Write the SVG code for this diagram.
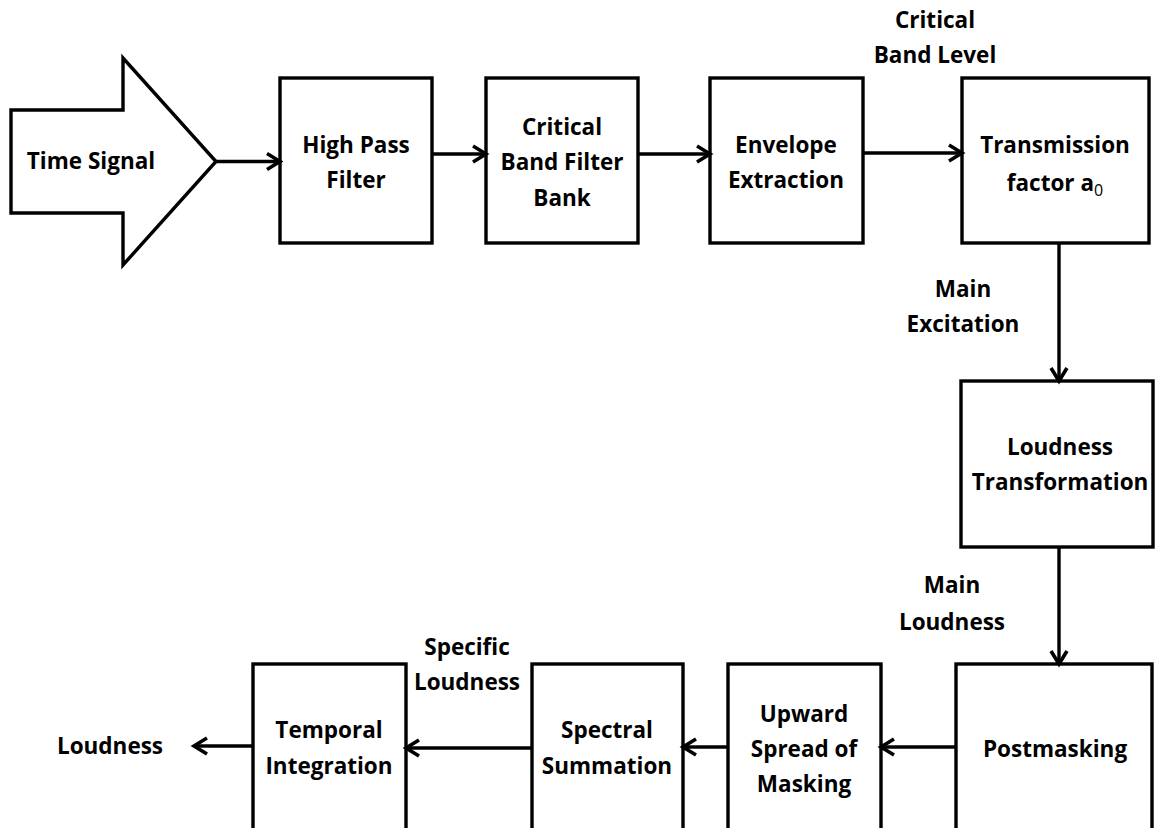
<svg xmlns="http://www.w3.org/2000/svg" width="1155" height="828" viewBox="0 0 1155 828">
<style>
.box{fill:#fff;stroke:#000;stroke-width:3.4}
.t{font-family:"Open Sans","Liberation Sans",sans-serif;font-weight:bold;font-size:22.5px;fill:#000;text-anchor:middle}
.c{stroke:#000;stroke-width:3.4;fill:none}
</style>
<defs>
<marker id="ah" markerUnits="userSpaceOnUse" markerWidth="20" markerHeight="22" viewBox="0 0 20 22" refX="16" refY="11" orient="auto">
<path d="M3,3 L16,11 L3,19" fill="none" stroke="#000" stroke-width="3.6" stroke-linejoin="miter"/>
</marker>
</defs>
<rect width="1155" height="828" fill="#fff"/>
<g id="time-signal">
<path class="box" d="M11,110 L123,110 L123,58 L216,161.5 L123,265 L123,213 L11,213 Z"/>
<text class="t" x="91" y="169">Time Signal</text>
</g>
<g id="high-pass">
<rect class="box" x="280" y="78" width="152" height="165"/>
<text class="t" x="356" y="153">High Pass</text>
<text class="t" x="356" y="188">Filter</text>
</g>
<g id="critical-band">
<rect class="box" x="486" y="78" width="152" height="165"/>
<text class="t" x="562" y="135">Critical</text>
<text class="t" x="562" y="170">Band Filter</text>
<text class="t" x="562" y="206">Bank</text>
</g>
<g id="envelope">
<rect class="box" x="710" y="78" width="153" height="165"/>
<text class="t" x="786" y="153">Envelope</text>
<text class="t" x="786" y="188">Extraction</text>
</g>
<g id="transmission">
<rect class="box" x="962" y="78" width="187" height="165"/>
<text class="t" x="1055" y="153">Transmission</text>
<text class="t" x="1055" y="191">factor a<tspan font-size="16" font-weight="normal" dy="5">0</tspan></text>
</g>
<g id="loudness-transformation">
<rect class="box" x="961" y="381" width="192" height="166"/>
<text class="t" x="1060" y="455">Loudness</text>
<text class="t" x="1060" y="490">Transformation</text>
</g>
<g id="postmasking">
<rect class="box" x="956" y="664" width="196" height="180"/>
<text class="t" x="1055" y="757">Postmasking</text>
</g>
<g id="upward-spread">
<rect class="box" x="728" y="664" width="153" height="180"/>
<text class="t" x="804" y="722">Upward</text>
<text class="t" x="804" y="757">Spread of</text>
<text class="t" x="804" y="792">Masking</text>
</g>
<g id="spectral-summation">
<rect class="box" x="532" y="664" width="151" height="180"/>
<text class="t" x="607" y="738">Spectral</text>
<text class="t" x="607" y="774">Summation</text>
</g>
<g id="temporal-integration">
<rect class="box" x="253" y="664" width="153" height="180"/>
<text class="t" x="329" y="738">Temporal</text>
<text class="t" x="329" y="774">Integration</text>
</g>
<g id="connectors">
<line class="c" x1="216" y1="161.5" x2="280" y2="161.5" marker-end="url(#ah)"/>
<line class="c" x1="432" y1="154" x2="486" y2="154" marker-end="url(#ah)"/>
<line class="c" x1="638" y1="154" x2="710" y2="154" marker-end="url(#ah)"/>
<line class="c" x1="863" y1="153" x2="962" y2="153" marker-end="url(#ah)"/>
<line class="c" x1="1059" y1="243" x2="1059" y2="381" marker-end="url(#ah)"/>
<line class="c" x1="1059" y1="547" x2="1059" y2="664" marker-end="url(#ah)"/>
<line class="c" x1="956" y1="747" x2="881" y2="747" marker-end="url(#ah)"/>
<line class="c" x1="728" y1="747" x2="683" y2="747" marker-end="url(#ah)"/>
<line class="c" x1="532" y1="748" x2="406" y2="748" marker-end="url(#ah)"/>
<line class="c" x1="253" y1="746" x2="194" y2="746" marker-end="url(#ah)"/>
</g>
<g id="labels">
<text class="t" x="935" y="28">Critical</text>
<text class="t" x="935" y="63">Band Level</text>
<text class="t" x="963" y="297">Main</text>
<text class="t" x="963" y="332">Excitation</text>
<text class="t" x="952" y="593">Main</text>
<text class="t" x="952" y="630">Loudness</text>
<text class="t" x="467" y="655">Specific</text>
<text class="t" x="467" y="690">Loudness</text>
<text class="t" x="110" y="754">Loudness</text>
</g>
</svg>
